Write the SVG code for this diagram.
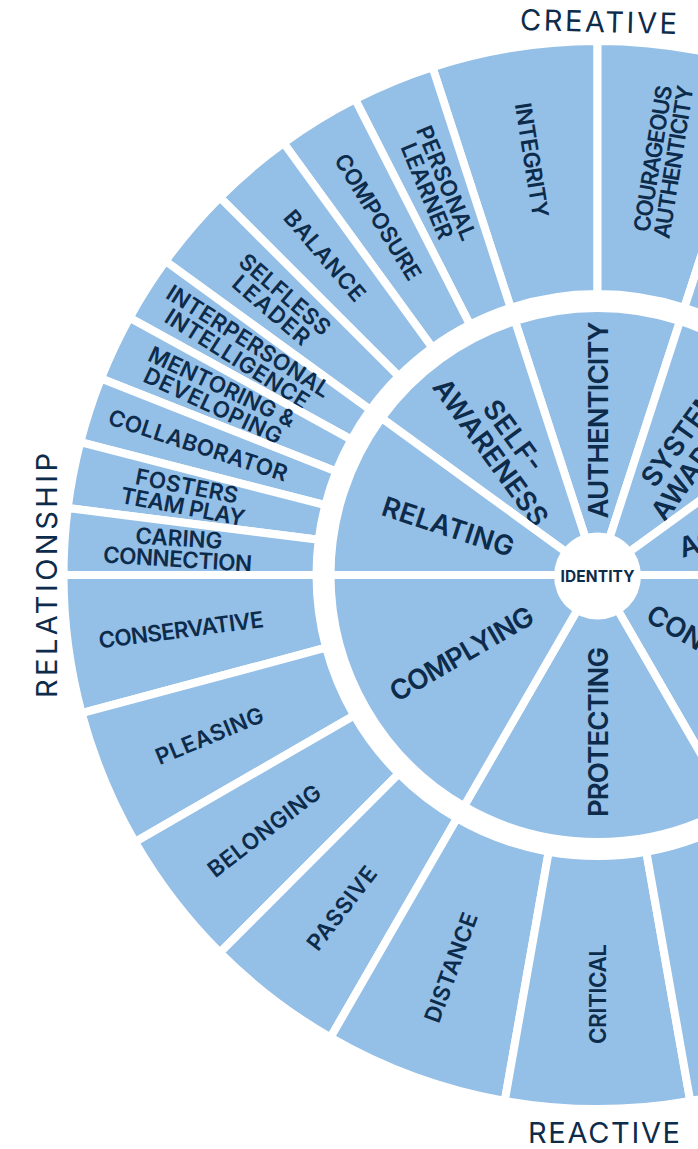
<svg xmlns="http://www.w3.org/2000/svg" width="698" height="1149" viewBox="0 0 698 1149">
<style>
.seg{fill:#94bfe6;stroke:#fff;stroke-width:8;stroke-linejoin:round}
text{font-family:Inter,"Noto Sans","DejaVu Sans",sans-serif;fill:#0d2b4b;text-anchor:middle}
.o{font-size:22.5px;font-weight:600}
.i{font-size:27.5px;font-weight:600}
.lbl{font-size:29px;font-weight:400}
.id{font-size:15.5px;font-weight:700}
</style>
<rect width="698" height="1149" fill="#fff"/>
<g id="outer-ring">
<g id="integrity"><path class="seg" d="M432.48,67.13 A534,534 0 0 1 597.5,41 L597.5,294 A281,281 0 0 0 510.67,307.75 Z"/><text class="o" transform="translate(531.8 160.17) rotate(81)" y="8" textLength="116" lengthAdjust="spacing">INTEGRITY</text></g>
<g id="personal-learner"><path class="seg" d="M355.07,99.2 A534,534 0 0 1 432.48,67.13 L510.67,307.75 A281,281 0 0 0 469.93,324.63 Z"/><text class="o" transform="translate(436.77 186.97) rotate(67.5)" y="-2.5" textLength="122" lengthAdjust="spacing">PERSONAL</text><text class="o" transform="translate(436.77 186.97) rotate(67.5)" y="18.5" textLength="102" lengthAdjust="spacing">LEARNER</text></g>
<g id="composure"><path class="seg" d="M283.62,142.98 A534,534 0 0 1 355.07,99.2 L469.93,324.63 A281,281 0 0 0 432.33,347.67 Z"/><text class="o" transform="translate(378.05 216.89) rotate(58.5)" y="8" textLength="144" lengthAdjust="spacing">COMPOSURE</text></g>
<g id="balance"><path class="seg" d="M219.9,197.4 A534,534 0 0 1 283.62,142.98 L432.33,347.67 A281,281 0 0 0 398.8,376.3 Z"/><text class="o" transform="translate(324.73 255.63) rotate(49.5)" y="8" textLength="112" lengthAdjust="spacing">BALANCE</text></g>
<g id="selfless-leader"><path class="seg" d="M165.48,261.12 A534,534 0 0 1 219.9,197.4 L398.8,376.3 A281,281 0 0 0 370.17,409.83 Z"/><text class="o" transform="translate(278.13 302.23) rotate(40.5)" y="-2.5" textLength="112" lengthAdjust="spacing">SELFLESS</text><text class="o" transform="translate(278.13 302.23) rotate(40.5)" y="18.5" textLength="94" lengthAdjust="spacing">LEADER</text></g>
<g id="interpersonal-intelligence"><path class="seg" d="M129.55,317.75 A534,534 0 0 1 165.48,261.12 L370.17,409.83 A281,281 0 0 0 351.26,439.63 Z"/><text class="o" transform="translate(242.88 349.95) rotate(32.4)" y="-2.5" textLength="189" lengthAdjust="spacing">INTERPERSONAL</text><text class="o" transform="translate(242.88 349.95) rotate(32.4)" y="18.5" textLength="166" lengthAdjust="spacing">INTELLIGENCE</text></g>
<g id="mentoring-developing"><path class="seg" d="M101,378.42 A534,534 0 0 1 129.55,317.75 L351.26,439.63 A281,281 0 0 0 336.23,471.56 Z"/><text class="o" transform="translate(217.47 396.17) rotate(25.2)" y="-2.5" textLength="159" lengthAdjust="spacing">MENTORING &amp;</text><text class="o" transform="translate(217.47 396.17) rotate(25.2)" y="18.5" textLength="150" lengthAdjust="spacing">DEVELOPING</text></g>
<g id="collaborator"><path class="seg" d="M80.28,442.2 A534,534 0 0 1 101,378.42 L336.23,471.56 A281,281 0 0 0 325.33,505.12 Z"/><text class="o" transform="translate(198.05 445.21) rotate(18)" y="8" textLength="187" lengthAdjust="spacing">COLLABORATOR</text></g>
<g id="fosters-team-play"><path class="seg" d="M67.71,508.07 A534,534 0 0 1 80.28,442.2 L325.33,505.12 A281,281 0 0 0 318.72,539.78 Z"/><text class="o" transform="translate(184.94 496.3) rotate(10.8)" y="-2.5" textLength="104" lengthAdjust="spacing">FOSTERS</text><text class="o" transform="translate(184.94 496.3) rotate(10.8)" y="18.5" textLength="126" lengthAdjust="spacing">TEAM PLAY</text></g>
<g id="caring-connection"><path class="seg" d="M63.5,575 A534,534 0 0 1 67.71,508.07 L318.72,539.78 A281,281 0 0 0 316.5,575 Z"/><text class="o" transform="translate(178.33 548.63) rotate(3.6)" y="-2.5" textLength="87" lengthAdjust="spacing">CARING</text><text class="o" transform="translate(178.33 548.63) rotate(3.6)" y="18.5" textLength="149" lengthAdjust="spacing">CONNECTION</text></g>
<g id="courageous-authenticity"><path class="seg" d="M597.5,41 A534,534 0 0 1 762.52,67.13 L684.33,307.75 A281,281 0 0 0 597.5,294 Z"/><text class="o" transform="translate(663.2 160.17) rotate(-81)" y="-2.5" textLength="148" lengthAdjust="spacing">COURAGEOUS</text><text class="o" transform="translate(663.2 160.17) rotate(-81)" y="18.5" textLength="155" lengthAdjust="spacing">AUTHENTICITY</text></g>
<g id="outer-18-30"><path class="seg" d="M762.52,67.13 A534,534 0 0 1 864.5,112.54 L738,331.65 A281,281 0 0 0 684.33,307.75 Z"/></g>
<g id="conservative"><path class="seg" d="M81.69,713.21 A534,534 0 0 1 63.5,575 L316.5,575 A281,281 0 0 0 326.07,647.73 Z"/><text class="o" transform="translate(181.1 629.82) rotate(-7.5)" y="8" textLength="166" lengthAdjust="spacing">CONSERVATIVE</text></g>
<g id="pleasing"><path class="seg" d="M135.04,842 A534,534 0 0 1 81.69,713.21 L326.07,647.73 A281,281 0 0 0 354.15,715.5 Z"/><text class="o" transform="translate(209.47 735.73) rotate(-22.5)" y="8" textLength="115" lengthAdjust="spacing">PLEASING</text></g>
<g id="belonging"><path class="seg" d="M219.9,952.6 A534,534 0 0 1 135.04,842 L354.15,715.5 A281,281 0 0 0 398.8,773.7 Z"/><text class="o" transform="translate(264.29 830.68) rotate(-37.5)" y="8" textLength="136" lengthAdjust="spacing">BELONGING</text></g>
<g id="passive"><path class="seg" d="M330.5,1037.46 A534,534 0 0 1 219.9,952.6 L398.8,773.7 A281,281 0 0 0 457,818.35 Z"/><text class="o" transform="translate(341.82 908.21) rotate(-52.5)" y="8" textLength="99" lengthAdjust="spacing">PASSIVE</text></g>
<g id="distance"><path class="seg" d="M504.77,1100.89 A534,534 0 0 1 330.5,1037.46 L457,818.35 A281,281 0 0 0 548.7,851.73 Z"/><text class="o" transform="translate(451 967.5) rotate(-70)" y="8" textLength="115" lengthAdjust="spacing">DISTANCE</text></g>
<g id="critical"><path class="seg" d="M690.23,1100.89 A534,534 0 0 1 504.77,1100.89 L548.7,851.73 A281,281 0 0 0 646.3,851.73 Z"/><text class="o" transform="translate(597.5 994) rotate(-90)" y="8" textLength="100" lengthAdjust="spacing">CRITICAL</text></g>
<g id="outer-150-170"><path class="seg" d="M864.5,1037.46 A534,534 0 0 1 690.23,1100.89 L646.3,851.73 A281,281 0 0 0 738,818.35 Z"/></g>
</g>
<g id="inner-ring">
<g id="authenticity"><path class="seg" d="M597.5,575 L515,321.07 A267,267 0 0 1 680,321.07 Z"/><text class="i" transform="translate(597.5 420) rotate(-90)" y="10" textLength="197" lengthAdjust="spacing">AUTHENTICITY</text></g>
<g id="self-awareness"><path class="seg" d="M597.5,575 L381.49,418.06 A267,267 0 0 1 515,321.07 Z"/><text class="i" transform="translate(502.28 443.94) rotate(54)" y="-4" textLength="82" lengthAdjust="spacing">SELF-</text><text class="i" transform="translate(502.28 443.94) rotate(54)" y="24" textLength="175" lengthAdjust="spacing">AWARENESS</text></g>
<g id="relating"><path class="seg" d="M597.5,575 L330.5,575 A267,267 0 0 1 381.49,418.06 Z"/><text class="i" transform="translate(448.18 526.48) rotate(18)" y="10" textLength="137" lengthAdjust="spacing">RELATING</text></g>
<g id="systems-awareness"><path class="seg" d="M597.5,575 L680,321.07 A267,267 0 0 1 813.51,418.06 Z"/><text class="i" transform="translate(697 438) rotate(-54)" y="-4" textLength="132" lengthAdjust="spacing">SYSTEMS</text><text class="i" transform="translate(697 438) rotate(-54)" y="24" textLength="175" lengthAdjust="spacing">AWARENESS</text></g>
<g id="achieving"><path class="seg" d="M597.5,575 L813.51,418.06 A267,267 0 0 1 864.5,575 Z"/><text class="i" transform="translate(751.6 525) rotate(-18)" y="10" textLength="152" lengthAdjust="spacing">ACHIEVING</text></g>
<g id="controlling"><path class="seg" d="M597.5,575 L864.5,575 A267,267 0 0 1 731,806.23 Z"/><text class="i" transform="translate(735 661) rotate(30)" y="10" textLength="198" lengthAdjust="spacing">CONTROLLING</text></g>
<g id="protecting"><path class="seg" d="M597.5,575 L731,806.23 A267,267 0 0 1 464,806.23 Z"/><text class="i" transform="translate(597.5 732) rotate(-90)" y="10" textLength="170" lengthAdjust="spacing">PROTECTING</text></g>
<g id="complying"><path class="seg" d="M597.5,575 L464,806.23 A267,267 0 0 1 330.5,575 Z"/><text class="i" transform="translate(461.53 653.5) rotate(-30)" y="10" textLength="161" lengthAdjust="spacing">COMPLYING</text></g>
</g>
<g id="identity"><circle cx="597.5" cy="576" r="43.5" fill="#fff"/><text class="id" x="597.5" y="581.5" textLength="74" lengthAdjust="spacing">IDENTITY</text></g>
<g id="labels">
<text class="lbl" transform="translate(598.5 21.5) rotate(1.5)" y="10.5" textLength="157" lengthAdjust="spacing">CREATIVE</text>
<text class="lbl" transform="translate(46.5 575.5) rotate(-90)" y="10.5" textLength="245" lengthAdjust="spacing">RELATIONSHIP</text>
<text class="lbl" transform="translate(604 1132)" y="10.5" textLength="152" lengthAdjust="spacing">REACTIVE</text>
</g>
</svg>
